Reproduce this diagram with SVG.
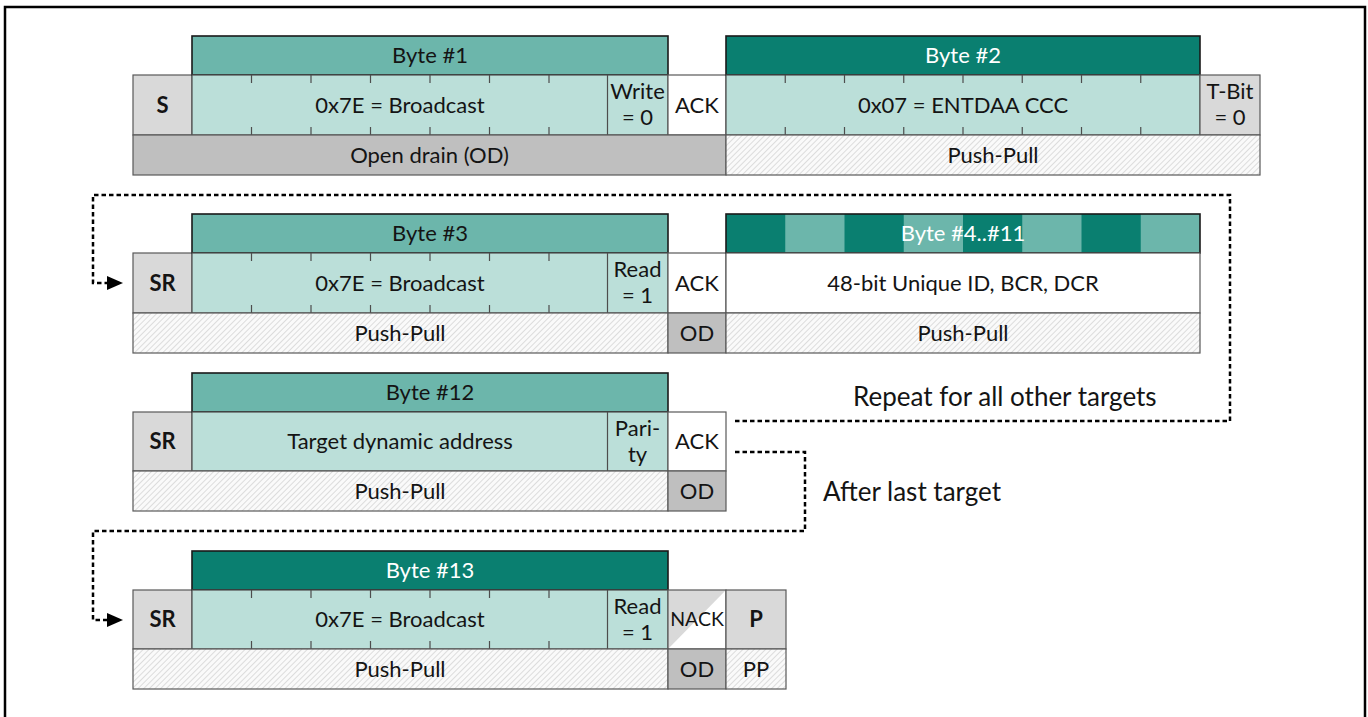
<svg xmlns="http://www.w3.org/2000/svg" width="1368" height="717" viewBox="0 0 1368 717">
<style>
text{font-family:Lato,"Open Sans","Liberation Sans",sans-serif;font-size:22px;fill:#141414;text-anchor:middle}
.b{font-weight:bold}
.w{fill:#ffffff}
.sm{font-size:19.5px}
.lbl{font-size:26px;text-anchor:start}
.hL{fill:#6cb6ab;stroke:#1a1a1a;stroke-width:1.6}
.hD{fill:#0a7f70;stroke:#1a1a1a;stroke-width:1.6}
.dat{fill:#bbdfd9;stroke:#4d4d4d;stroke-width:1.2}
.gry{fill:#d9d9d9;stroke:#595959;stroke-width:1.2}
.od{fill:#bfbfbf;stroke:#595959;stroke-width:1.2}
.wh{fill:#ffffff;stroke:#595959;stroke-width:1.2}
.ht{fill:url(#hatch);stroke:#595959;stroke-width:1.2}
.tk{stroke:#4d4d4d;stroke-width:1.2}
.con{fill:none;stroke:#000;stroke-width:2.5;stroke-dasharray:4.5 3}
.ah{fill:#000}
</style>
<defs>
<pattern id="hatch" patternUnits="userSpaceOnUse" width="4" height="4" patternTransform="rotate(45)">
<rect width="4" height="4" fill="#fafafa"/>
<line x1="0" y1="0" x2="0" y2="4" stroke="#c8c8c8" stroke-width="1.2"/>
</pattern>
</defs>
<rect x="5" y="7" width="1360" height="730" fill="#fff" stroke="#000" stroke-width="2.5"/>

<g id="connectors">
<path class="con" d="M735,421 H1230 V195 H93 V283 H107"/>
<path class="ah" d="M107,276 L123,283 L107,290 Z"/>
<path class="con" d="M735,452 H805 V531 H93 V620 H107"/>
<path class="ah" d="M107,613 L123,620 L107,627 Z"/>
</g>

<!-- Row 1 -->
<g id="row1-S"><rect class="gry" x="133" y="75" width="59" height="60"/><text class="b" x="162.5" y="113">S</text></g>
<g id="row1-byte1">
<rect class="hL" x="192" y="36" width="476" height="39"/><text x="430" y="63">Byte #1</text>
<rect class="dat" x="192" y="75" width="476" height="60"/>
<path class="tk" d="M251.5,75v8M311,75v8M370.5,75v8M430,75v8M489.5,75v8M549,75v8M251.5,135v-8M311,135v-8M370.5,135v-8M430,135v-8M489.5,135v-8M549,135v-8M607.5,75v60"/>
<text x="400" y="113">0x7E = Broadcast</text>
<text x="637.5" y="99">Write</text><text x="637.5" y="125">= 0</text>
</g>
<g id="row1-ack"><rect class="wh" x="668" y="75" width="58" height="60"/><text x="697" y="113">ACK</text></g>
<g id="row1-byte2">
<rect class="hD" x="726" y="36" width="474" height="39"/><text class="w" x="963" y="63">Byte #2</text>
<rect class="dat" x="726" y="75" width="474" height="60"/>
<path class="tk" d="M785.25,75v8M844.5,75v8M903.75,75v8M963,75v8M1022.25,75v8M1081.5,75v8M1140.75,75v8M785.25,135v-8M844.5,135v-8M903.75,135v-8M963,135v-8M1022.25,135v-8M1081.5,135v-8M1140.75,135v-8"/>
<text x="963" y="113">0x07 = ENTDAA CCC</text>
</g>
<g id="row1-tbit"><rect class="gry" x="1200" y="75" width="60" height="60"/><text x="1230" y="99">T-Bit</text><text x="1230" y="125">= 0</text></g>
<g id="row1-od"><rect class="od" x="133" y="135" width="593" height="40"/><text x="429.5" y="163">Open drain (OD)</text></g>
<g id="row1-pp"><rect class="ht" x="726" y="135" width="534" height="40"/><text x="993" y="163">Push-Pull</text></g>

<!-- Row 2 -->
<g id="row2-SR"><rect class="gry" x="133" y="253" width="59" height="60"/><text class="b" x="162.5" y="291">SR</text></g>
<g id="row2-byte3">
<rect class="hL" x="192" y="214" width="476" height="39"/><text x="430" y="241">Byte #3</text>
<rect class="dat" x="192" y="253" width="476" height="60"/>
<path class="tk" d="M251.5,253v8M311,253v8M370.5,253v8M430,253v8M489.5,253v8M549,253v8M251.5,313v-8M311,313v-8M370.5,313v-8M430,313v-8M489.5,313v-8M549,313v-8M607.5,253v60"/>
<text x="400" y="291">0x7E = Broadcast</text>
<text x="637.5" y="277">Read</text><text x="637.5" y="303">= 1</text>
</g>
<g id="row2-ack"><rect class="wh" x="668" y="253" width="58" height="60"/><text x="697" y="291">ACK</text></g>
<g id="row2-byte4-11">
<rect fill="#0a7f70" x="726" y="214" width="474" height="39"/>
<rect fill="#6cb6ab" x="785.25" y="214" width="59.25" height="39"/>
<rect fill="#6cb6ab" x="903.75" y="214" width="59.25" height="39"/>
<rect fill="#6cb6ab" x="1022.25" y="214" width="59.25" height="39"/>
<rect fill="#6cb6ab" x="1140.75" y="214" width="59.25" height="39"/>
<rect x="726" y="214" width="474" height="39" fill="none" stroke="#1a1a1a" stroke-width="1.6"/>
<text class="w" x="963" y="241">Byte #4..#11</text>
<rect class="wh" x="726" y="253" width="474" height="60"/>
<text x="963" y="291">48-bit Unique ID, BCR, DCR</text>
</g>
<g id="row2-pp1"><rect class="ht" x="133" y="313" width="535" height="40"/><text x="400" y="341">Push-Pull</text></g>
<g id="row2-od"><rect class="od" x="668" y="313" width="58" height="40"/><text x="697" y="341">OD</text></g>
<g id="row2-pp2"><rect class="ht" x="726" y="313" width="474" height="40"/><text x="963" y="341">Push-Pull</text></g>

<!-- Row 3 -->
<g id="row3-SR"><rect class="gry" x="133" y="412" width="59" height="59"/><text class="b" x="162.5" y="449">SR</text></g>
<g id="row3-byte12">
<rect class="hL" x="192" y="373" width="476" height="39"/><text x="430" y="400">Byte #12</text>
<rect class="dat" x="192" y="412" width="476" height="59"/>
<path class="tk" d="M607.5,412v59"/>
<text x="400" y="449">Target dynamic address</text>
<text x="637.5" y="436">Pari-</text><text x="637.5" y="462">ty</text>
</g>
<g id="row3-ack"><rect class="wh" x="668" y="412" width="58" height="59"/><text x="697" y="449">ACK</text></g>
<g id="row3-pp"><rect class="ht" x="133" y="471" width="535" height="40"/><text x="400" y="499">Push-Pull</text></g>
<g id="row3-od"><rect class="od" x="668" y="471" width="58" height="40"/><text x="697" y="499">OD</text></g>

<!-- Row 4 -->
<g id="row4-SR"><rect class="gry" x="133" y="590" width="59" height="59"/><text class="b" x="162.5" y="627">SR</text></g>
<g id="row4-byte13">
<rect class="hD" x="192" y="551" width="476" height="39"/><text class="w" x="430" y="578">Byte #13</text>
<rect class="dat" x="192" y="590" width="476" height="59"/>
<path class="tk" d="M251.5,590v8M311,590v8M370.5,590v8M430,590v8M489.5,590v8M549,590v8M251.5,649v-8M311,649v-8M370.5,649v-8M430,649v-8M489.5,649v-8M549,649v-8M607.5,590v59"/>
<text x="400" y="627">0x7E = Broadcast</text>
<text x="637.5" y="614">Read</text><text x="637.5" y="640">= 1</text>
</g>
<g id="row4-nack">
<rect fill="#fff" x="668" y="590" width="58" height="59"/>
<path d="M668,590 H726 L668,649 Z" fill="#d9d9d9"/>
<rect x="668" y="590" width="58" height="59" fill="none" stroke="#595959" stroke-width="1.2"/>
<text class="sm" x="697" y="626">NACK</text>
</g>
<g id="row4-P"><rect class="gry" x="726" y="590" width="60" height="59"/><text class="b" x="756" y="627">P</text></g>
<g id="row4-pp"><rect class="ht" x="133" y="649" width="535" height="40"/><text x="400" y="677">Push-Pull</text></g>
<g id="row4-od"><rect class="od" x="668" y="649" width="58" height="40"/><text x="697" y="677">OD</text></g>
<g id="row4-pp2"><rect class="ht" x="726" y="649" width="60" height="40"/><text x="756" y="677">PP</text></g>

<g id="labels">
<text class="lbl" x="853" y="406">Repeat for all other targets</text>
<text class="lbl" x="823" y="501">After last target</text>
</g>
</svg>
